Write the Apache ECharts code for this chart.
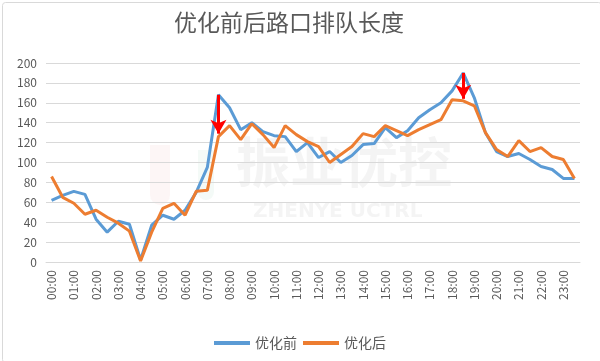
<!DOCTYPE html>
<html><head><meta charset="utf-8">
<script src="https://cdn.jsdelivr.net/npm/echarts@6/dist/echarts.min.js"></script>
<style>html,body{margin:0;padding:0;background:#fff}#c{width:600px;height:361px}</style>
</head><body><div id="c"></div>
<script>
var categories = [];
for (var h = 0; h < 24; h++) { var hh = (h < 10 ? '0' : '') + h; categories.push(hh + ':00'); categories.push(hh + ':30'); }
var before = [62,67,71,68,43,30,41,38,2,37,47,43,52,70,95,168,155,133,140,131,127,126,111,120,105,111,100,107,118,119,135,125,132,145,153,160,172,190,165,130,111,106,109,103,96,93,84,84];
var after  = [86,65,59,48,52,45,39,31,1,30,54,59,47,71,72,126,137,123,139,128,115,137,128,121,116,100,108,116,129,126,137,132,127,133,138,143,163,162,157,130,113,106,122,111,115,106,103,84];
var arrows = [['07:30',168,129],['18:30',190,164]];
var seriesNames = ['优化前','优化后'];
var title = '优化前后路口排队长度';
var FONT = '"Noto Sans CJK SC","Microsoft YaHei",sans-serif';
var chart = echarts.init(document.getElementById('c'), null, {renderer:'canvas'});
chart.setOption({
  animation:false,
  title:{text:title,left:174,top:11,padding:0,textStyle:{fontFamily:FONT,fontSize:23,fontWeight:'normal',color:'#595959'}},
  graphic:[
    {type:'rect',left:0,top:0,shape:{x:0.5,y:0.5,width:599,height:360,r:3},style:{fill:'none',stroke:'#d9d9d9',lineWidth:1},z:-10},
    {type:'text',left:236,top:135,style:{text:'振业优控',fontFamily:FONT,fontSize:54,fontWeight:'bold',fill:'rgba(200,200,200,0.2)'},z:-5},
    {type:'text',left:253,top:202,style:{text:'ZHENYE UCTRL',fontFamily:'"DejaVu Sans",sans-serif',fontSize:20,fontWeight:'bold',fill:'rgba(200,200,200,0.2)'},z:-5},
    {type:'rect',left:150,top:145,shape:{x:0,y:0,width:20,height:60,r:[0,0,10,10]},style:{fill:'rgba(240,170,170,0.1)'},z:-5},
    {type:'rect',left:198,top:150,shape:{x:0,y:0,width:16,height:50,r:[0,0,8,8]},style:{fill:'rgba(150,210,180,0.1)'},z:-5}
  ],
  legend:{bottom:6,left:'center',itemWidth:36,itemHeight:4,itemGap:6,icon:'rect',
    textStyle:{fontFamily:FONT,fontSize:14,color:'#595959'},data:seriesNames},
  grid:{left:46,right:20,top:63,bottom:99,containLabel:false},
  xAxis:{type:'category',data:categories,boundaryGap:true,
    axisLine:{lineStyle:{color:'#d9d9d9'}},axisTick:{show:false},
    axisLabel:{interval:1,rotate:90,color:'#595959',fontSize:12,fontFamily:FONT,margin:8}},
  yAxis:{type:'value',min:0,max:200,interval:20,
    axisLine:{show:false},axisTick:{show:false},
    splitLine:{lineStyle:{color:'#d9d9d9',width:1}},
    axisLabel:{color:'#595959',fontSize:12,fontFamily:FONT,margin:9}},
  series:[
    {name:seriesNames[0],type:'line',data:before,showSymbol:false,symbol:'none',lineStyle:{color:'#5B9BD5',width:3},itemStyle:{color:'#5B9BD5'},z:2},
    {name:seriesNames[1],type:'line',data:after,showSymbol:false,symbol:'none',lineStyle:{color:'#ED7D31',width:3},itemStyle:{color:'#ED7D31'},z:3,
      markLine:{silent:true,symbol:['none','arrow'],symbolSize:[12,14],label:{show:false},
        lineStyle:{color:'#FF0000',width:3,type:'solid'},z:10,
        data:arrows.map(function(a){return [{coord:[a[0],a[1]]},{coord:[a[0],a[2]]}];})}}
  ]
});
</script></body></html>
